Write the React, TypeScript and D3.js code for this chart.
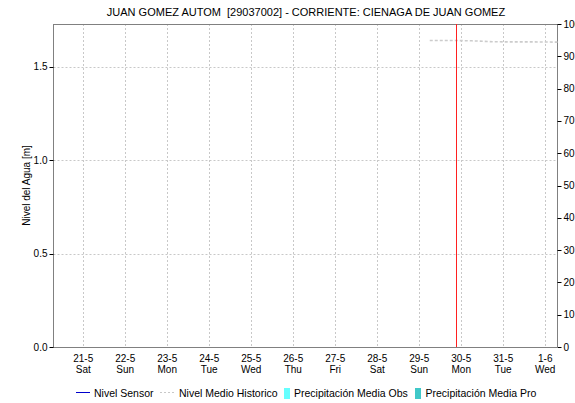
import React from "react";
import * as d3 from "d3";

const TITLE = "JUAN GOMEZ AUTOM  [29037002] - CORRIENTE: CIENAGA DE JUAN GOMEZ";
const Y_LABEL = "Nivel del Agua [m]";

const dayDates = ["2022-05-21","2022-05-22","2022-05-23","2022-05-24","2022-05-25","2022-05-26","2022-05-27","2022-05-28","2022-05-29","2022-05-30","2022-05-31","2022-06-01"];
const dayLabels = ["21-5","22-5","23-5","24-5","25-5","26-5","27-5","28-5","29-5","30-5","31-5","1-6"];
const weekdayLabels = ["Sat","Sun","Mon","Tue","Wed","Thu","Fri","Sat","Sun","Mon","Tue","Wed"];

const leftTicks = [0, 0.5, 1.0, 1.5];
const rightTicks = [0, 10, 20, 30, 40, 50, 60, 70, 80, 90, 100];

// Nivel Medio Historico
const histTimes = ["2022-05-29T06:00","2022-05-29T18:00","2022-05-30T06:00","2022-05-30T18:00","2022-05-31T06:00","2022-05-31T18:00","2022-06-01T06:00","2022-06-01T07:00"];
const histValues = [1.642, 1.642, 1.640, 1.635, 1.634, 1.634, 1.633, 1.633];

// Nivel Sensor (no data in window)
const sensorTimes: string[] = [];
const sensorValues: number[] = [];

const nowTime = "2022-05-29T21:00";

const legendItems = ["Nivel Sensor", "Nivel Medio Historico", "Precipitación Media Obs", "Precipitación Media Pro"];

const W = 575, H = 403;
const M = { left: 53.5, right: 557.5, top: 24, bottom: 347 };
const FONT = "'Liberation Sans', Arial, sans-serif";

export default function App() {
  const parse = (s: string) => new Date(s + (s.length === 10 ? "T00:00" : ""));
  const x = d3.scaleTime()
    .domain([parse("2022-05-20T07:00"), parse("2022-06-01T07:00")])
    .range([M.left, M.right]);
  const y = d3.scaleLinear().domain([0, 1.73]).range([M.bottom, M.top]);
  const y2 = d3.scaleLinear().domain([0, 100]).range([M.bottom, M.top]);

  const line = d3.line<[Date, number]>().x(d => x(d[0])).y(d => y(d[1]));
  const histPath = line(histTimes.map((t, i) => [parse(t), histValues[i]] as [Date, number])) || "";
  const sensorPath = sensorTimes.length ? line(sensorTimes.map((t, i) => [parse(t), sensorValues[i]] as [Date, number])) || "" : "";

  const nowX = Math.round(x(parse(nowTime))) + 0.5;
  const grid = "#c8c8c8";
  const axisCol = "#808080";

  return (
    <svg width={W} height={H} style={{ position: "absolute", left: 0, top: 0, background: "#fff" }} fontFamily={FONT}>
      <rect x={0} y={0} width={W} height={H} fill="#fff" />
      <text x={306} y={16} textAnchor="middle" fontSize={11} fill="#000" style={{ whiteSpace: "pre" }}>{TITLE}</text>

      {/* grid */}
      {leftTicks.filter(t => t > 0).map(t => (
        <line key={"hg" + t} x1={M.left} x2={M.right} y1={Math.round(y(t)) + 0.5} y2={Math.round(y(t)) + 0.5} stroke={grid} strokeDasharray="2,2" />
      ))}
      {dayDates.map(d => (
        <line key={"vg" + d} x1={Math.round(x(parse(d))) + 0.5} x2={Math.round(x(parse(d))) + 0.5} y1={M.top} y2={M.bottom} stroke={grid} strokeDasharray="2,2" />
      ))}

      {/* frame */}
      <line x1={M.left} x2={M.right} y1={M.top + 0.5} y2={M.top + 0.5} stroke={axisCol} />
      <line x1={M.left} x2={M.left} y1={M.top} y2={M.bottom} stroke={axisCol} />
      <line x1={M.right} x2={M.right} y1={M.top} y2={M.bottom} stroke={axisCol} />
      <line x1={M.left} x2={M.right} y1={M.bottom + 0.5} y2={M.bottom + 0.5} stroke="#000" strokeDasharray="1,1" />

      {/* historic */}
      <path d={histPath} fill="none" stroke="#cccccc" strokeWidth={1.6} strokeDasharray="3,2" />
      {sensorPath && <path d={sensorPath} fill="none" stroke="#0000cc" strokeWidth={1} />}

      {/* now line */}
      <line x1={nowX} x2={nowX} y1={M.top} y2={M.bottom} stroke="#ff2020" strokeWidth={1} />

      {/* left axis */}
      {leftTicks.map(t => (
        <g key={"lt" + t}>
          <line x1={M.left - 4} x2={M.left} y1={Math.round(y(t)) + 0.5} y2={Math.round(y(t)) + 0.5} stroke="#000" />
          <text x={M.left - 6} y={y(t) + 3.5} textAnchor="end" fontSize={10} fill="#000">{t.toFixed(1)}</text>
        </g>
      ))}
      <text transform={`translate(30,${(M.top + M.bottom) / 2}) rotate(-90)`} textAnchor="middle" fontSize={10} fill="#000">{Y_LABEL}</text>

      {/* right axis */}
      {rightTicks.map(t => (
        <g key={"rt" + t}>
          <line x1={M.right} x2={M.right + 4} y1={Math.round(y2(t)) + 0.5} y2={Math.round(y2(t)) + 0.5} stroke="#000" />
          <text x={M.right + 6} y={y2(t) + 3.5} textAnchor="start" fontSize={10} fill="#000">{t}</text>
        </g>
      ))}

      {/* x labels */}
      {dayDates.map((d, i) => (
        <g key={"xl" + d}>
          <text x={x(parse(d))} y={361.5} textAnchor="middle" fontSize={10} fill="#000">{dayLabels[i]}</text>
          <text x={x(parse(d))} y={372.5} textAnchor="middle" fontSize={10} fill="#000">{weekdayLabels[i]}</text>
        </g>
      ))}

      {/* legend */}
      <line x1={76} x2={90} y1={392.5} y2={392.5} stroke="#0000cc" />
      <text x={94} y={396.5} fontSize={10.5} fill="#000">{legendItems[0]}</text>
      <line x1={160} x2={174} y1={392.5} y2={392.5} stroke="#c8c8c8" strokeDasharray="2,2" />
      <text x={179} y={396.5} fontSize={10.5} fill="#000">{legendItems[1]}</text>
      <rect x={284} y={388} width={6} height={11} fill="#66ffff" />
      <text x={294} y={396.5} fontSize={10.5} fill="#000">{legendItems[2]}</text>
      <rect x={415} y={388} width={6} height={11} fill="#40c8c8" />
      <text x={425.5} y={396.5} fontSize={10.5} fill="#000">{legendItems[3]}</text>
    </svg>
  );
}
